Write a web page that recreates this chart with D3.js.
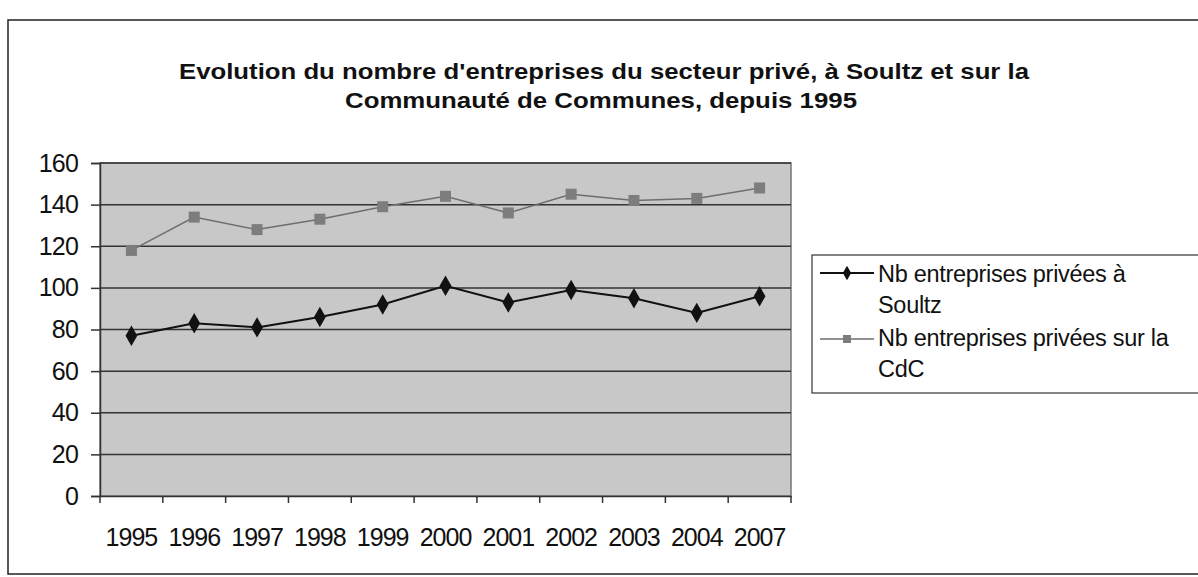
<!DOCTYPE html>
<html>
<head>
<meta charset="utf-8">
<script src="https://cdn.jsdelivr.net/npm/d3@7"></script>
<style>
  body { margin: 0; background: #fff; }
  text { font-family: "Liberation Sans", Arial, sans-serif; }
</style>
</head>
<body>
<script>
// data
const years = ["1995", "1996", "1997", "1998", "1999", "2000", "2001", "2002", "2003", "2004", "2007"];
const soultz = [77, 83, 81, 86, 92, 101, 93, 99, 95, 88, 96];
const cdc = [118, 134, 128, 133, 139, 144, 136, 145, 142, 143, 148];
const yTicks = [0, 20, 40, 60, 80, 100, 120, 140, 160];
const seriesNames = ["Nb entreprises privées à|Soultz", "Nb entreprises privées sur la|CdC"];

const W = 1198, H = 577;
const plot = { left: 100, top: 163, right: 791, bottom: 496 };

const svg = d3.select("body").append("svg")
    .attr("width", W)
    .attr("height", H);

// outer frame
svg.append("rect")
    .attr("x", 8).attr("y", 20)
    .attr("width", W).attr("height", 554)
    .attr("fill", "#fff")
    .attr("stroke", "#222")
    .attr("stroke-width", 1.5);

// title
const title = svg.append("text")
    .attr("text-anchor", "middle")
    .attr("font-weight", "bold")
    .attr("font-size", 22)
    .attr("fill", "#111");
title.append("tspan").attr("x", 604).attr("y", 79)
    .attr("textLength", 850).attr("lengthAdjust", "spacingAndGlyphs")
    .text("Evolution du nombre d'entreprises du secteur privé, à Soultz et sur la");
title.append("tspan").attr("x", 601).attr("y", 108)
    .attr("textLength", 512).attr("lengthAdjust", "spacingAndGlyphs")
    .text("Communauté de Communes, depuis 1995");

// scales
const x = d3.scaleBand()
    .domain(years)
    .range([plot.left, plot.right]);

const y = d3.scaleLinear()
    .domain([0, 160])
    .range([plot.bottom, plot.top]);

const cx = d => x(d) + x.bandwidth() / 2;

// plot background
svg.append("rect")
    .attr("x", plot.left).attr("y", plot.top)
    .attr("width", plot.right - plot.left)
    .attr("height", plot.bottom - plot.top)
    .attr("fill", "#c8c8c8")
    .attr("stroke", "#777")
    .attr("stroke-width", 1.5);

// gridlines
svg.append("g")
    .selectAll("line")
    .data(yTicks.filter(t => t > 0))
    .join("line")
      .attr("x1", plot.left).attr("x2", plot.right)
      .attr("y1", d => y(d)).attr("y2", d => y(d))
      .attr("stroke", "#333")
      .attr("stroke-width", 1.5);

// y axis
const yAxis = svg.append("g")
    .attr("transform", `translate(${plot.left},0)`)
    .call(d3.axisLeft(y).tickValues(yTicks).tickSize(9).tickPadding(13));
yAxis.select(".domain").attr("stroke", "#333").attr("stroke-width", 1.5);
yAxis.selectAll(".tick line").attr("stroke", "#333").attr("stroke-width", 1.5);
yAxis.selectAll("text")
    .attr("font-size", 25)
    .attr("fill", "#111")
    .attr("font-family", "Liberation Sans, Arial, sans-serif")
    .attr("letter-spacing", -0.8);

// x axis
const xAxis = svg.append("g")
    .attr("transform", `translate(0,${plot.bottom})`)
    .call(d3.axisBottom(x).tickSize(0).tickPadding(32));
xAxis.select(".domain").attr("stroke", "#333").attr("stroke-width", 1.5);
xAxis.selectAll("text")
    .attr("font-size", 25)
    .attr("fill", "#111")
    .attr("font-family", "Liberation Sans, Arial, sans-serif")
    .attr("letter-spacing", -1)
    .attr("dy", "0.71em");
// tick marks between categories
svg.append("g")
    .selectAll("line")
    .data(years.concat(["end"]))
    .join("line")
      .attr("x1", (d, i) => plot.left + i * x.step())
      .attr("x2", (d, i) => plot.left + i * x.step())
      .attr("y1", plot.bottom)
      .attr("y2", plot.bottom + 7)
      .attr("stroke", "#333")
      .attr("stroke-width", 1.5);

const line = d3.line()
    .x((d, i) => cx(years[i]))
    .y(d => y(d));

// CdC series (grey, squares)
svg.append("path")
    .datum(cdc)
    .attr("d", line)
    .attr("fill", "none")
    .attr("stroke", "#6e6e6e")
    .attr("stroke-width", 1.5);
svg.append("g")
    .selectAll("rect")
    .data(cdc)
    .join("rect")
      .attr("x", (d, i) => cx(years[i]) - 5.5)
      .attr("y", d => y(d) - 5.5)
      .attr("width", 11).attr("height", 11)
      .attr("fill", "#7d7d7d");

// Soultz series (black, diamonds)
svg.append("path")
    .datum(soultz)
    .attr("d", line)
    .attr("fill", "none")
    .attr("stroke", "#111")
    .attr("stroke-width", 2);
svg.append("g")
    .selectAll("path")
    .data(soultz)
    .join("path")
      .attr("d", d3.symbol(d3.symbolDiamond, 120))
      .attr("transform", (d, i) => `translate(${cx(years[i])},${y(d)})`)
      .attr("fill", "#111");

// legend
const legend = svg.append("g");
legend.append("rect")
    .attr("x", 812).attr("y", 255)
    .attr("width", 400).attr("height", 138)
    .attr("fill", "#fff")
    .attr("stroke", "#333")
    .attr("stroke-width", 1.2);

const legendRows = [
  { y: 282, my: 273, color: "#111", width: 2, shape: "diamond" },
  { y: 346, my: 339, color: "#6e6e6e", width: 1.5, shape: "square" }
];
legendRows.forEach((r, i) => {
  legend.append("line")
      .attr("x1", 820).attr("x2", 874)
      .attr("y1", r.my).attr("y2", r.my)
      .attr("stroke", r.color)
      .attr("stroke-width", r.width);
  if (r.shape === "diamond") {
    legend.append("path")
        .attr("d", d3.symbol(d3.symbolDiamond, 60))
        .attr("transform", `translate(847,${r.my})`)
        .attr("fill", r.color);
  } else {
    legend.append("rect")
        .attr("x", 843).attr("y", r.my - 4)
        .attr("width", 8).attr("height", 8)
        .attr("fill", "#7d7d7d");
  }
  const parts = seriesNames[i].split("|");
  const t = legend.append("text")
      .attr("font-size", 23.5)
      .attr("fill", "#111")
      .attr("letter-spacing", -0.3);
  parts.forEach((p, k) => {
    t.append("tspan").attr("x", 878).attr("y", r.y + k * 31).text(p);
  });
});
</script>
</body>
</html>
